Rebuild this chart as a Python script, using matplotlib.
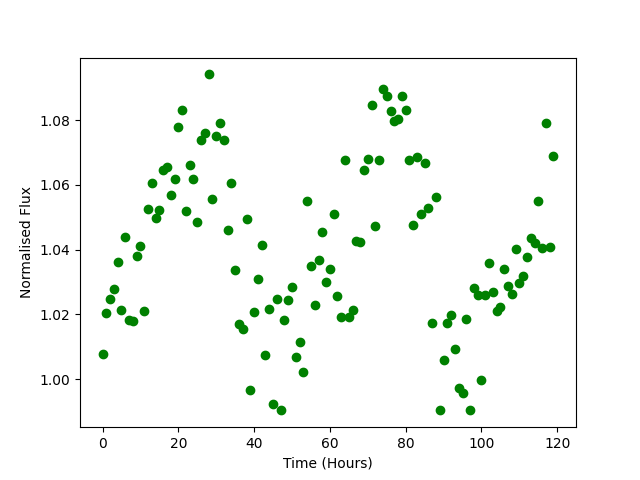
import matplotlib
matplotlib.use('Agg')
from matplotlib import pyplot as plt

# time in hours
time_hours = [
    0, 1, 2, 3, 4, 5, 6, 7, 8, 9,
    10, 11, 12, 13, 14, 15, 16, 17, 18, 19,
    20, 21, 22, 23, 24, 25, 26, 27, 28, 29,
    30, 31, 32, 33, 34, 35, 36, 37, 38, 39,
    40, 41, 42, 43, 44, 45, 46, 47, 48, 49,
    50, 51, 52, 53, 54, 55, 56, 57, 58, 59,
    60, 61, 62, 63, 64, 65, 66, 67, 68, 69,
    70, 71, 72, 73, 74, 75, 76, 77, 78, 79,
    80, 81, 82, 83, 84, 85, 86, 87, 88, 89,
    90, 91, 92, 93, 94, 95, 96, 97, 98, 99,
    100, 101, 102, 103, 104, 105, 106, 107, 108, 109,
    110, 111, 112, 113, 114, 115, 116, 117, 118, 119,
]

# normalised flux
flux = [
    1.0076, 1.0204, 1.0246, 1.0277, 1.0361, 1.0214, 1.0438, 1.0181, 1.0178, 1.0379,
    1.0412, 1.0209, 1.0527, 1.0605, 1.0497, 1.0522, 1.0647, 1.0657, 1.0568, 1.0620,
    1.0778, 1.0833, 1.0521, 1.0663, 1.0620, 1.0487, 1.0740, 1.0762, 1.0942, 1.0558,
    1.0753, 1.0793, 1.0740, 1.0460, 1.0605, 1.0336, 1.0171, 1.0154, 1.0494, 0.9965,
    1.0206, 1.0308, 1.0413, 1.0073, 1.0217, 0.9922, 1.0246, 0.9903, 1.0181, 1.0243,
    1.0286, 1.0069, 1.0113, 1.0021, 1.0552, 1.0351, 1.0228, 1.0367, 1.0456, 1.0299,
    1.0339, 1.0509, 1.0256, 1.0191, 1.0676, 1.0191, 1.0212, 1.0428, 1.0425, 1.0645,
    1.0679, 1.0846, 1.0472, 1.0676, 1.0896, 1.0874, 1.0828, 1.0799, 1.0803, 1.0874,
    1.0833, 1.0676, 1.0475, 1.0688, 1.0511, 1.0669, 1.0529, 1.0172, 1.0564, 0.9903,
    1.0058, 1.0172, 1.0197, 1.0092, 0.9972, 0.9956, 1.0185, 0.9903, 1.0281, 1.0259,
    0.9997, 1.0259, 1.0358, 1.0268, 1.0209, 1.0222, 1.0340, 1.0287, 1.0263, 1.0401,
    1.0296, 1.0318, 1.0376, 1.0435, 1.0420, 1.0552, 1.0404, 1.0793, 1.0407, 1.0691,
]

fig, ax = plt.subplots(figsize=(6.4, 4.8), dpi=100)
ax.plot(time_hours, flux, 'o', color='green')
ax.set_xlabel('Time (Hours)')
ax.set_ylabel('Normalised Flux')
plt.savefig('out.png')
